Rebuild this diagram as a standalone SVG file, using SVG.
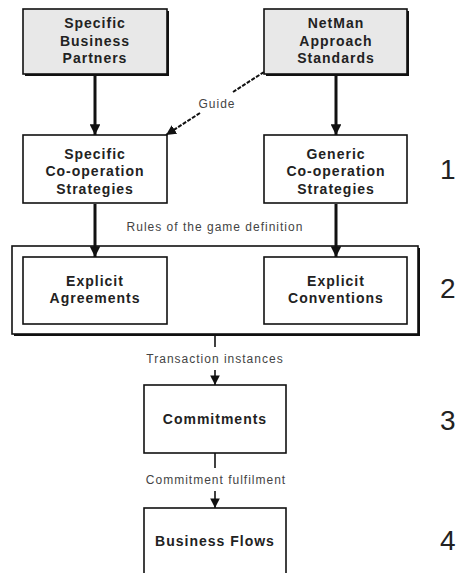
<svg xmlns="http://www.w3.org/2000/svg" width="458" height="573" viewBox="0 0 458 573">
  <style>
    .box { fill: #ffffff; stroke: #111; stroke-width: 1.6; }
    .src { fill: #e8e8e8; stroke: #111; stroke-width: 1.6; }
    .shadow { fill: #111; }
    .lbl { font-family: "Liberation Sans", Arial, sans-serif; font-weight: bold; font-size: 14px; letter-spacing: 1px; fill: #222; text-anchor: middle; }
    .small { font-family: "Liberation Sans", Arial, sans-serif; font-size: 12px; letter-spacing: 1px; fill: #444; text-anchor: middle; }
    .num { font-family: "Liberation Sans", Arial, sans-serif; font-size: 28px; fill: #222; }
    .thick { stroke: #111; stroke-width: 3; fill: none; }
    .thin { stroke: #111; stroke-width: 1.6; fill: none; }
    .dash { stroke: #111; stroke-width: 2; stroke-dasharray: 4 1.5; fill: none; }
  </style>
  <defs>
    <marker id="head" viewBox="0 0 10 10" refX="10" refY="5" markerWidth="4" markerHeight="3.6" markerUnits="strokeWidth" orient="auto">
      <path d="M0,0 L10,5 L0,10 Z" fill="#111"/>
    </marker>
    <marker id="headThin" viewBox="0 0 10 10" refX="10" refY="5" markerWidth="6" markerHeight="6" markerUnits="strokeWidth" orient="auto">
      <path d="M0,0 L10,5 L0,10 Z" fill="#111"/>
    </marker>
    <marker id="headDash" viewBox="0 0 10 10" refX="10" refY="5" markerWidth="5" markerHeight="5" markerUnits="strokeWidth" orient="auto">
      <path d="M0,0 L10,5 L0,10 Z" fill="#111"/>
    </marker>
  </defs>

  <!-- grouping frame around the explicit rule boxes -->
  <g id="rules-frame">
    <rect class="shadow" x="14" y="248" width="406" height="88"/>
    <rect class="box" x="12" y="246" width="406" height="88"/>
  </g>

  <g id="specific-business-partners">
    <rect class="shadow" x="25" y="11" width="144" height="65"/>
    <rect class="src" x="23" y="9" width="144" height="65"/>
    <text class="lbl" x="95" y="28">Specific</text>
    <text class="lbl" x="95" y="45.5">Business</text>
    <text class="lbl" x="95" y="63">Partners</text>
  </g>

  <g id="netman-approach-standards">
    <rect class="shadow" x="266" y="11" width="143" height="65"/>
    <rect class="src" x="264" y="9" width="143" height="65"/>
    <text class="lbl" x="336" y="28">NetMan</text>
    <text class="lbl" x="336" y="45.5">Approach</text>
    <text class="lbl" x="336" y="63">Standards</text>
  </g>

  <g id="specific-cooperation-strategies">
    <rect class="box" x="23" y="135" width="144" height="68"/>
    <text class="lbl" x="95" y="158.5">Specific</text>
    <text class="lbl" x="95" y="176">Co-operation</text>
    <text class="lbl" x="95" y="193.5">Strategies</text>
  </g>

  <g id="generic-cooperation-strategies">
    <rect class="box" x="264" y="135" width="143" height="68"/>
    <text class="lbl" x="336" y="158.5">Generic</text>
    <text class="lbl" x="336" y="176">Co-operation</text>
    <text class="lbl" x="336" y="193.5">Strategies</text>
  </g>

  <g id="explicit-agreements">
    <rect class="box" x="23" y="257" width="144" height="67"/>
    <text class="lbl" x="95" y="286">Explicit</text>
    <text class="lbl" x="95" y="303">Agreements</text>
  </g>

  <g id="explicit-conventions">
    <rect class="box" x="264" y="257" width="143" height="67"/>
    <text class="lbl" x="336" y="286">Explicit</text>
    <text class="lbl" x="336" y="303">Conventions</text>
  </g>

  <g id="commitments">
    <rect class="box" x="144" y="385" width="142" height="68"/>
    <text class="lbl" x="215" y="424">Commitments</text>
  </g>

  <g id="business-flows">
    <rect class="box" x="144" y="508" width="142" height="68"/>
    <text class="lbl" x="215" y="546">Business Flows</text>
  </g>

  <!-- level numbers -->
  <g id="levels">
    <text class="num" x="440" y="179">1</text>
    <text class="num" x="440" y="298">2</text>
    <text class="num" x="440" y="430">3</text>
    <text class="num" x="440" y="550">4</text>
  </g>

  <g id="connectors">
    <line class="thick" x1="95" y1="75" x2="95" y2="135" marker-end="url(#head)"/>
    <line class="thick" x1="336" y1="75" x2="336" y2="135" marker-end="url(#head)"/>
    <line class="thick" x1="95" y1="204" x2="95" y2="257" marker-end="url(#head)"/>
    <line class="thick" x1="336" y1="204" x2="336" y2="257" marker-end="url(#head)"/>

    <!-- guide: dashed, broken around its label -->
    <line class="dash" x1="264" y1="72" x2="233" y2="92"/>
    <line class="dash" x1="200" y1="113" x2="166" y2="135" marker-end="url(#headDash)"/>
    <text class="small" x="217" y="108">Guide</text>

    <text class="small" x="215" y="231">Rules of the game definition</text>

    <line class="thin" x1="215" y1="335" x2="215" y2="347"/>
    <line class="thin" x1="215" y1="370" x2="215" y2="385" marker-end="url(#headThin)"/>
    <text class="small" x="215" y="363">Transaction instances</text>

    <line class="thin" x1="215" y1="453" x2="215" y2="468"/>
    <line class="thin" x1="215" y1="491" x2="215" y2="508" marker-end="url(#headThin)"/>
    <text class="small" x="216" y="484">Commitment fulfilment</text>
  </g>
</svg>
